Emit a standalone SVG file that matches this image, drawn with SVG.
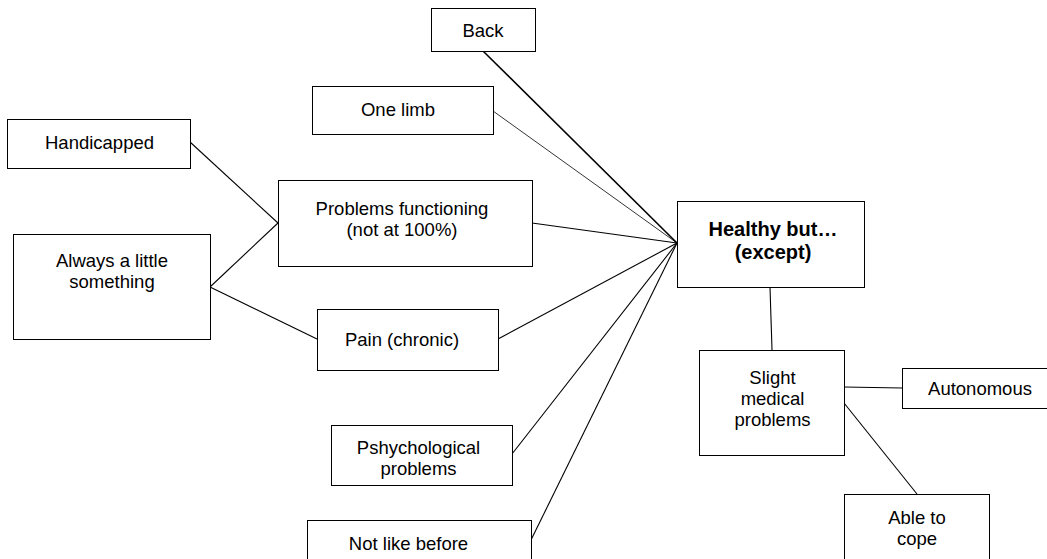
<svg xmlns="http://www.w3.org/2000/svg" width="1047" height="559" viewBox="0 0 1047 559">
  <style>
    .box { fill: #ffffff; stroke: #000000; stroke-width: 1; }
    .lbl { font-family: "Liberation Sans", Arial, sans-serif; font-size: 18.5px; fill: #000000; text-anchor: middle; }
    .main { font-family: "Liberation Sans", Arial, sans-serif; font-size: 20px; font-weight: bold; fill: #000000; text-anchor: middle; }
    .link { stroke: #000000; stroke-width: 1.1; fill: none; }
  </style>
  <rect width="1047" height="559" fill="#ffffff"/>

  <!-- connectors -->
  <g id="connectors">
    <line class="link" x1="483" y1="51" x2="677" y2="243" style="stroke-width:1.6"/>
    <line class="link" x1="493" y1="111" x2="677" y2="243" style="stroke-width:0.8"/>
    <line class="link" x1="532" y1="223" x2="677" y2="243"/>
    <line class="link" x1="498" y1="339" x2="677" y2="243"/>
    <line class="link" x1="512" y1="454" x2="677" y2="243"/>
    <line class="link" x1="531" y1="540" x2="677" y2="243"/>
    <line class="link" x1="190" y1="142" x2="278" y2="223"/>
    <line class="link" x1="210" y1="287" x2="278" y2="223"/>
    <line class="link" x1="210" y1="287" x2="317" y2="339"/>
    <line class="link" x1="770" y1="287" x2="772" y2="350"/>
    <line class="link" x1="844" y1="387" x2="902" y2="388"/>
    <line class="link" x1="844" y1="403" x2="917" y2="494"/>
  </g>

  <g id="back">
    <rect class="box" x="431.5" y="8.5" width="104" height="43"/>
    <text class="lbl" x="483" y="37">Back</text>
  </g>

  <g id="one-limb">
    <rect class="box" x="312.5" y="86.5" width="181" height="48"/>
    <text class="lbl" x="398" y="116">One limb</text>
  </g>

  <g id="handicapped">
    <rect class="box" x="7.5" y="119.5" width="183" height="49"/>
    <text class="lbl" x="99.5" y="149">Handicapped</text>
  </g>

  <g id="problems-functioning">
    <rect class="box" x="278.5" y="180.5" width="254" height="86"/>
    <text class="lbl" x="402" y="215">Problems functioning</text>
    <text class="lbl" x="402" y="236">(not at 100%)</text>
  </g>

  <g id="always-a-little-something">
    <rect class="box" x="13.5" y="234.5" width="197" height="105"/>
    <text class="lbl" x="112" y="267">Always a little</text>
    <text class="lbl" x="112" y="288">something</text>
  </g>

  <g id="pain">
    <rect class="box" x="317.5" y="309.5" width="181" height="61"/>
    <text class="lbl" x="402" y="346">Pain (chronic)</text>
  </g>

  <g id="psychological">
    <rect class="box" x="331.5" y="425.5" width="181" height="60"/>
    <text class="lbl" x="418.5" y="454">Pshychological</text>
    <text class="lbl" x="418.5" y="475">problems</text>
  </g>

  <g id="not-like-before">
    <rect class="box" x="307.5" y="520.5" width="224" height="60"/>
    <text class="lbl" x="408.5" y="550">Not like before</text>
  </g>

  <g id="healthy-but">
    <rect class="box" x="677.5" y="201.5" width="187" height="86"/>
    <text class="main" x="773" y="236">Healthy but…</text>
    <text class="main" x="773" y="259">(except)</text>
  </g>

  <g id="slight-medical-problems">
    <rect class="box" x="699.5" y="350.5" width="145" height="105"/>
    <text class="lbl" x="772.5" y="384">Slight</text>
    <text class="lbl" x="772.5" y="405">medical</text>
    <text class="lbl" x="772.5" y="426">problems</text>
  </g>

  <g id="autonomous">
    <rect class="box" x="902.5" y="368.5" width="160" height="40"/>
    <text class="lbl" x="980" y="395">Autonomous</text>
  </g>

  <g id="able-to-cope">
    <rect class="box" x="844.5" y="494.5" width="145" height="80"/>
    <text class="lbl" x="917" y="524">Able to</text>
    <text class="lbl" x="917" y="545">cope</text>
  </g>
</svg>
